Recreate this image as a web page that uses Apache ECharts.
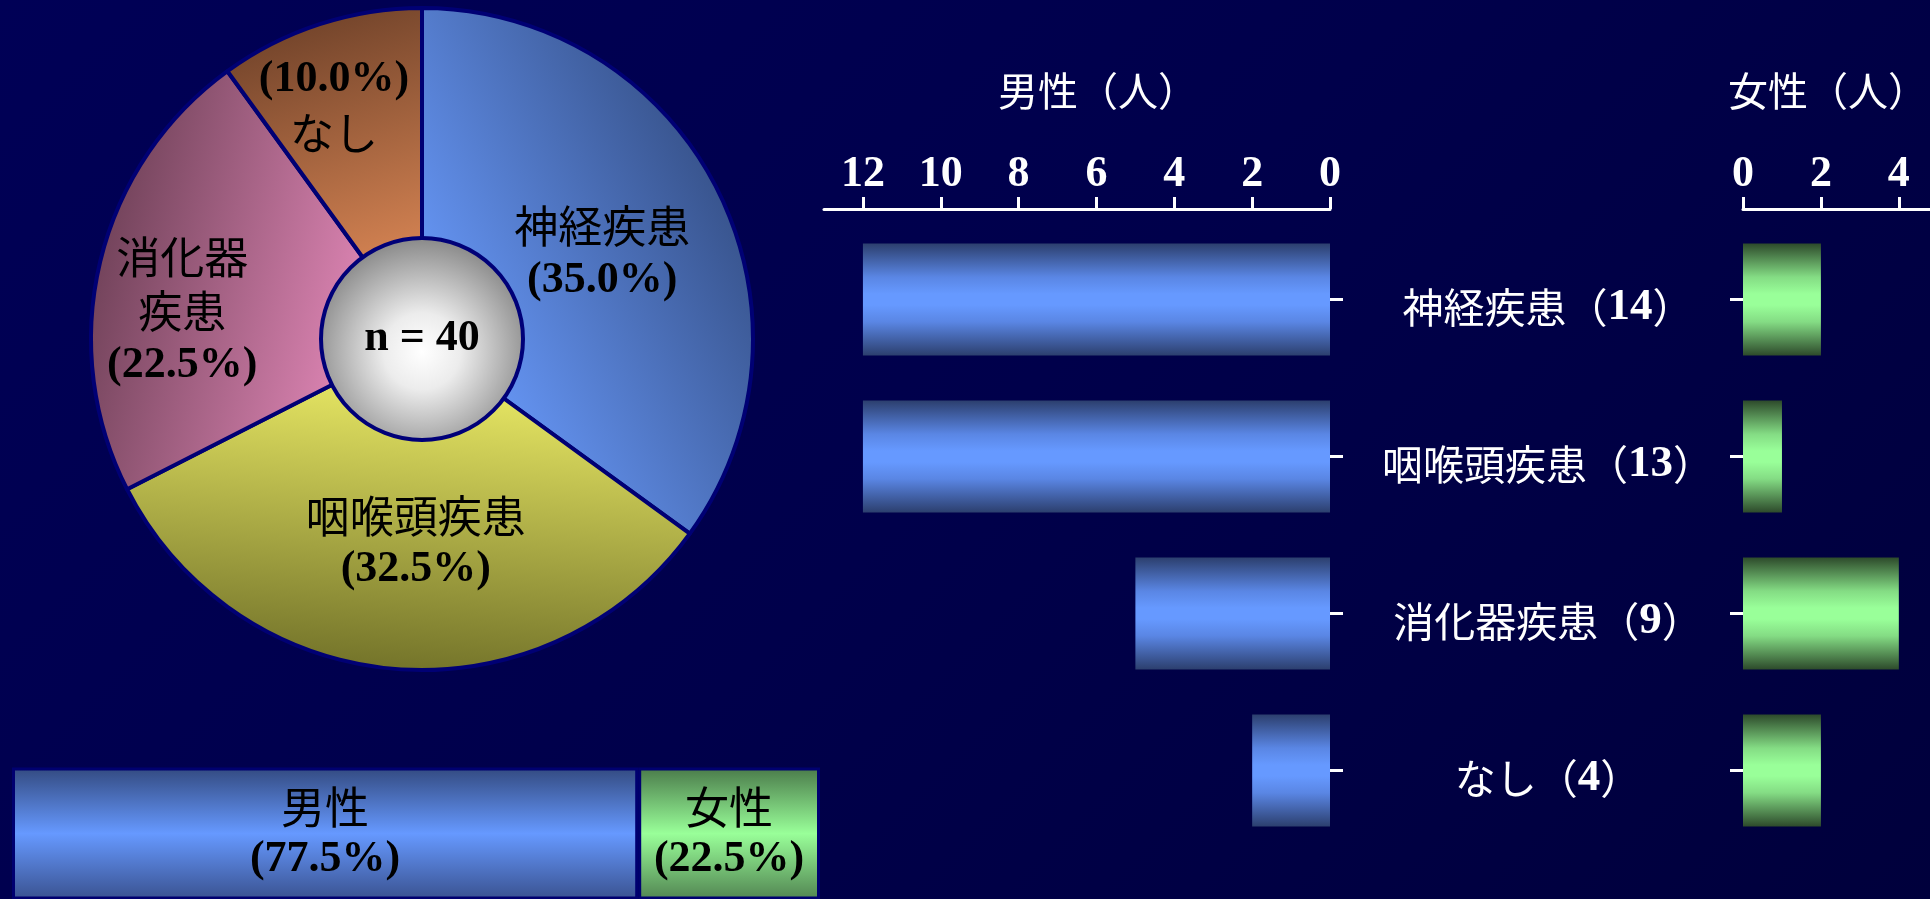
<!DOCTYPE html>
<html>
<head>
<meta charset="utf-8">
<title>疾患別内訳</title>
<script src="https://cdn.jsdelivr.net/npm/echarts@6/dist/echarts.min.js"></script>
<style>
html,body{margin:0;padding:0;overflow:hidden;}
body{background:linear-gradient(135deg,#000056 0%,#00004b 50%,#00003c 100%);}
#chart{width:1930px;height:899px;}
</style>
</head>
<body>
<div id="chart"></div>
<script>
// data
var categories = ['神経疾患', '咽喉頭疾患', '消化器疾患', 'なし'];
var maleCounts = [12, 12, 5, 2];
var femaleCounts = [2, 1, 4, 2];
var maleTicks = [0, 2, 4, 6, 8, 10, 12];
var femaleTicks = [0, 2, 4];
var genderNames = ['男性', '女性'];

var totals = categories.map(function (c, i) { return maleCounts[i] + femaleCounts[i]; });
var sum = function (arr) { return arr.reduce(function (a, b) { return a + b; }, 0); };
var total = sum(totals);
var maleSum = sum(maleCounts);
var femaleSum = sum(femaleCounts);

// layout
var pieCenter = [422, 339];
var pieRadius = 331;
var holeRadius = 101;
var sliceColors = [
  ['#6a9cff', '#39558f'],
  ['#f8f86c', '#74742a'],
  ['#f694c8', '#74445c'],
  ['#f4975f', '#76462c']
];
var labelShift = [[30, -9], [7, 36], [-76, 12], [-36, -72]];

function pct(v) { return '(' + (v / total * 100).toFixed(1) + '%)'; }

function barGradient(dark, mid, bright) {
  return new echarts.graphic.LinearGradient(0, 0, 0, 1, [
    { offset: 0, color: dark },
    { offset: 0.3, color: mid },
    { offset: 0.45, color: bright },
    { offset: 0.55, color: bright },
    { offset: 0.7, color: mid },
    { offset: 1, color: dark }
  ]);
}

var pieData = [];
var acc = 0;
categories.forEach(function (name, i) {
  var mid = (90 - (acc + totals[i] / 2) / total * 360) * Math.PI / 180;
  acc += totals[i];
  pieData.push({
    name: name,
    value: totals[i],
    itemStyle: {
      color: {
        type: 'linear',
        x: pieCenter[0], y: pieCenter[1],
        x2: pieCenter[0] + pieRadius * Math.cos(mid),
        y2: pieCenter[1] - pieRadius * Math.sin(mid),
        global: true,
        colorStops: [
          { offset: 0, color: sliceColors[i][0] },
          { offset: 1, color: sliceColors[i][1] }
        ]
      }
    }
  });
});

var cjk = 'Noto Sans CJK JP';
var serif = 'Liberation Serif';

var chart = echarts.init(document.getElementById('chart'), null, { renderer: 'canvas' });
var option = {
  animation: false,
  backgroundColor: 'transparent',
  title: [
    { text: '男性（人）', left: 993, top: 66, padding: 5,
      textStyle: { color: '#fff', fontFamily: cjk, fontWeight: 'normal', fontSize: 40 } },
    { text: '女性（人）', left: 1723, top: 66, padding: 5,
      textStyle: { color: '#fff', fontFamily: cjk, fontWeight: 'normal', fontSize: 40 } }
  ],
  grid: [
    { left: 824, top: 221, width: 506, height: 628 },
    { left: 1743, top: 221, width: 187, height: 628 },
    { left: 12, top: 768, width: 808, height: 132 }
  ],
  xAxis: [
    {
      gridIndex: 0, type: 'value', inverse: true, min: 0, max: 13,
      position: 'top', offset: 12,
      axisLine: { show: true, lineStyle: { color: '#fff', width: 3 } },
      axisTick: { show: true, customValues: maleTicks, length: 12, lineStyle: { color: '#fff', width: 3 } },
      axisLabel: { customValues: maleTicks, color: '#fff', fontFamily: serif, fontWeight: 'bold', fontSize: 44, margin: 12 },
      splitLine: { show: false }
    },
    {
      gridIndex: 1, type: 'value', min: 0, max: 4.8,
      position: 'top', offset: 12,
      axisLine: { show: true, lineStyle: { color: '#fff', width: 3 } },
      axisTick: { show: true, customValues: femaleTicks, length: 12, lineStyle: { color: '#fff', width: 3 } },
      axisLabel: { customValues: femaleTicks, color: '#fff', fontFamily: serif, fontWeight: 'bold', fontSize: 44, margin: 12 },
      splitLine: { show: false }
    },
    { gridIndex: 2, type: 'value', min: 0, max: total, show: false }
  ],
  yAxis: [
    {
      gridIndex: 0, type: 'category', data: categories, inverse: true, position: 'right',
      axisLine: { show: false },
      axisTick: { show: true, alignWithLabel: true, length: 13, lineStyle: { color: '#fff', width: 3 } },
      axisLabel: {
        margin: 218, align: 'center', padding: [16, 0, 0, 0],
        formatter: function (v, i) { return '{n|' + v + '（}{b|' + totals[i] + '}{n|）}'; },
        rich: {
          n: { color: '#fff', fontFamily: cjk, fontSize: 41 },
          b: { color: '#fff', fontFamily: serif, fontWeight: 'bold', fontSize: 45 }
        }
      }
    },
    {
      gridIndex: 1, type: 'category', data: categories, inverse: true, position: 'left',
      axisLine: { show: false },
      axisTick: { show: true, alignWithLabel: true, length: 13, lineStyle: { color: '#fff', width: 3 } },
      axisLabel: { show: false }
    },
    { gridIndex: 2, type: 'category', data: ['n'], show: false }
  ],
  series: [
    {
      type: 'pie', center: pieCenter, radius: [0, pieRadius], startAngle: 90, clockwise: true,
      avoidLabelOverlap: false, silent: true,
      itemStyle: { borderColor: '#000074', borderWidth: 4 },
      label: {
        position: 'inside',
        formatter: function (p) {
          var name = p.name === '消化器疾患' ? '消化器\n疾患' : p.name;
          var lines = name.split('\n').map(function (s) { return '{n|' + s + '}'; }).join('\n');
          var per = '{p|' + pct(p.value) + '}';
          return p.dataIndex === 3 ? per + '\n' + lines : lines + '\n' + per;
        },
        rich: {
          n: { color: '#000', fontFamily: cjk, fontSize: 44, lineHeight: 54 },
          p: { color: '#000', fontFamily: serif, fontWeight: 'bold', fontSize: 44, lineHeight: 54 }
        }
      },
      labelLine: { show: false },
      labelLayout: function (params) {
        var s = labelShift[params.dataIndex];
        return { dx: s[0], dy: s[1] };
      },
      data: pieData
    },
    {
      type: 'pie', center: pieCenter, radius: [0, holeRadius], silent: true,
      itemStyle: {
        color: {
          type: 'radial', x: 0.5, y: 0.56, r: 0.62,
          colorStops: [
            { offset: 0, color: '#ffffff' },
            { offset: 0.3, color: '#ececec' },
            { offset: 1, color: '#767676' }
          ]
        },
        borderColor: '#000078', borderWidth: 4
      },
      label: {
        position: 'center', formatter: 'n = ' + total,
        color: '#000', fontFamily: serif, fontWeight: 'bold', fontSize: 44
      },
      labelLine: { show: false },
      data: [{ name: 'n', value: total }]
    },
    {
      type: 'bar', xAxisIndex: 0, yAxisIndex: 0, barWidth: 112, silent: true,
      itemStyle: { color: barGradient('#2c3f6e', '#5a86e4', '#6699ff') },
      data: maleCounts
    },
    {
      type: 'bar', xAxisIndex: 1, yAxisIndex: 1, barWidth: 112, silent: true,
      itemStyle: { color: barGradient('#2d4a2b', '#84dc84', '#99ff99') },
      data: femaleCounts
    },
    {
      type: 'bar', xAxisIndex: 2, yAxisIndex: 2, stack: 'g', barWidth: 132, silent: true,
      itemStyle: {
        color: new echarts.graphic.LinearGradient(0, 0, 0, 1, [
          { offset: 0, color: '#334a80' }, { offset: 0.5, color: '#6699ff' }, { offset: 1, color: '#3a5290' }
        ]),
        borderColor: '#000070', borderWidth: 3
      },
      label: {
        show: true, position: 'inside',
        formatter: function (p) { return '{n|' + genderNames[0] + '}\n{p|' + pct(p.value) + '}'; },
        rich: {
          n: { color: '#000', fontFamily: cjk, fontSize: 44, lineHeight: 53 },
          p: { color: '#000', fontFamily: serif, fontWeight: 'bold', fontSize: 44, lineHeight: 53 }
        }
      },
      data: [maleSum]
    },
    {
      type: 'bar', xAxisIndex: 2, yAxisIndex: 2, stack: 'g', barWidth: 132, silent: true,
      itemStyle: {
        color: new echarts.graphic.LinearGradient(0, 0, 0, 1, [
          { offset: 0, color: '#4a7a4a' }, { offset: 0.5, color: '#99ff99' }, { offset: 1, color: '#528552' }
        ]),
        borderColor: '#000070', borderWidth: 3
      },
      label: {
        show: true, position: 'inside',
        formatter: function (p) { return '{n|' + genderNames[1] + '}\n{p|' + pct(p.value) + '}'; },
        rich: {
          n: { color: '#000', fontFamily: cjk, fontSize: 44, lineHeight: 53 },
          p: { color: '#000', fontFamily: serif, fontWeight: 'bold', fontSize: 44, lineHeight: 53 }
        }
      },
      data: [femaleSum]
    }
  ]
};
chart.setOption(option);
window.addEventListener('resize', function () { chart.resize(); });
</script>
</body>
</html>
